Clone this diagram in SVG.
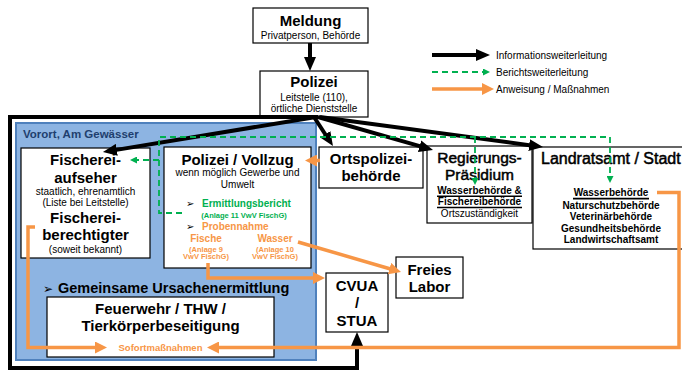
<svg xmlns="http://www.w3.org/2000/svg" width="682" height="372" viewBox="0 0 682 372">
<defs>
<style>
text{font-family:"Liberation Sans",Arial,sans-serif;fill:#000}
.box{fill:#fff;stroke:#000;stroke-width:1.2}
.t15{font-size:15px;font-weight:bold;text-anchor:middle}
.t16r{font-size:16px;stroke:#000;stroke-width:0.5}
.s10{font-size:10px;text-anchor:middle}
.b10{font-size:10px;font-weight:bold;text-anchor:middle}
.og{fill:#F79646;font-weight:bold}
.gr{fill:#00B050;font-weight:bold}
.blk{fill:none;stroke:#000;stroke-width:4;marker-end:url(#ab)}
.org{fill:none;stroke:#F79646;stroke-width:3.5;marker-end:url(#ao)}
.grn{fill:none;stroke:#00B050;stroke-width:1.8;stroke-dasharray:6 4;marker-end:url(#ag)}
.ul{stroke:#000;stroke-width:1.6}
.bul{font-family:"DejaVu Sans",sans-serif;font-size:10px;fill:#000}
</style>
<marker id="ab" markerUnits="userSpaceOnUse" markerWidth="14" markerHeight="12" refX="2" refY="6" orient="auto"><path d="M0,0 L14,6 L0,12 z" fill="#000"/></marker>
<marker id="ao" markerUnits="userSpaceOnUse" markerWidth="12" markerHeight="12" refX="2" refY="6" orient="auto"><path d="M0,0 L12,6 L0,12 z" fill="#F79646"/></marker>
<marker id="ag" markerUnits="userSpaceOnUse" markerWidth="7" markerHeight="7" refX="1" refY="3.5" orient="auto"><path d="M0,0 L7,3.5 L0,7 z" fill="#00B050"/></marker>
</defs>
<rect width="682" height="372" fill="#fff"/>

<g id="vorort">
<rect x="16" y="123" width="300" height="237" fill="#8DB4E2" stroke="#4F81BD" stroke-width="2"/>
<text x="23" y="137.5" font-size="11.5" font-weight="bold" style="fill:#1F3F6E">Vorort, Am Gewässer</text>
<text x="43" y="292.5" class="bul" style="font-size:12px">➢</text>
<text x="58" y="292.5" font-size="14.5" font-weight="bold">Gemeinsame Ursachenermittlung</text>
</g>

<g id="meldung">
<rect class="box" x="253" y="8" width="115" height="35"/>
<text class="t15" x="310.5" y="26">Meldung</text>
<text class="s10" x="310.5" y="38.5">Privatperson, Behörde</text>
</g>

<g id="polizei">
<rect class="box" x="260" y="71" width="108" height="46"/>
<text class="t15" x="314" y="87">Polizei</text>
<text class="s10" x="314" y="100.5">Leitstelle (110),</text>
<text class="s10" x="314" y="111.5">örtliche Dienststelle</text>
</g>

<g id="legende">
<text x="496" y="59" font-size="10">Informationsweiterleitung</text>
<text x="496" y="76" font-size="10">Berichtsweiterleitung</text>
<text x="496" y="93" font-size="10">Anweisung / Maßnahmen</text>
</g>

<g id="fischerei">
<rect class="box" x="21" y="148" width="129" height="110"/>
<text class="t15" x="85.5" y="165">Fischerei-</text>
<text class="t15" x="85.5" y="182.5">aufseher</text>
<text class="s10" x="85.5" y="194.5">staatlich, ehrenamtlich</text>
<text class="s10" x="85.5" y="205.5">(Liste bei Leitstelle)</text>
<text class="t15" x="85.5" y="223">Fischerei-</text>
<text class="t15" x="85.5" y="240">berechtigter</text>
<text class="s10" x="85.5" y="252.5">(soweit bekannt)</text>
</g>

<g id="vollzug">
<rect class="box" x="164" y="147" width="147" height="121"/>
<text class="t15" x="237.5" y="165">Polizei / Vollzug</text>
<text class="s10" x="237.5" y="176">wenn möglich Gewerbe und</text>
<text class="s10" x="237.5" y="187.5">Umwelt</text>
<text class="bul" x="186" y="207">➢</text>
<text class="gr" x="202" y="207" font-size="10">Ermittlungsbericht</text>
<text class="gr" x="244" y="218" font-size="7.5" text-anchor="middle">(Anlage 11 VwV FischG)</text>
<text class="bul" x="186" y="229.5">➢</text>
<text class="og" x="202" y="229.5" font-size="10">Probennahme</text>
<text class="og" x="206" y="242" font-size="10" text-anchor="middle">Fische</text>
<text class="og" x="206" y="251.5" font-size="7.5" text-anchor="middle">(Anlage 9</text>
<text class="og" x="206" y="259" font-size="7.5" text-anchor="middle">VwV FischG)</text>
<text class="og" x="275" y="242" font-size="10" text-anchor="middle">Wasser</text>
<text class="og" x="275" y="251.5" font-size="7.5" text-anchor="middle">(Anlage 10</text>
<text class="og" x="275" y="259" font-size="7.5" text-anchor="middle">VwV FischG)</text>
</g>

<g id="ortspolizei">
<rect class="box" x="319" y="147" width="104" height="41"/>
<text class="t15" x="371" y="163.5">Ortspolizei-</text>
<text class="t15" x="371" y="181">behörde</text>
</g>

<g id="regierung">
<rect class="box" x="427" y="146" width="105" height="77"/>
<text class="t16r" x="479.5" y="163" text-anchor="middle" style="font-size:15.5px">Regierungs-</text>
<text class="t16r" x="479.5" y="180" text-anchor="middle" style="font-size:15.5px">Präsidium</text>
<text class="b10" x="479.5" y="193.5">Wasserbehörde &amp;</text>
<line class="ul" x1="437" y1="196.3" x2="522" y2="196.3"/>
<text class="b10" x="479.5" y="205">Fischereibehörde</text>
<line class="ul" x1="437" y1="207.5" x2="522" y2="207.5"/>
<text class="s10" x="479.5" y="217">Ortszuständigkeit</text>
</g>

<g id="landratsamt">
<rect class="box" x="533" y="147" width="160" height="102"/>
<text class="t16r" x="541" y="163.5">Landratsamt / Stadt</text>
<text class="b10" x="611" y="196">Wasserbehörde</text>
<line class="ul" x1="573" y1="198.6" x2="649" y2="198.6"/>
<text class="b10" x="611" y="208.5">Naturschutzbehörde</text>
<text class="b10" x="611" y="220">Veterinärbehörde</text>
<text class="b10" x="611" y="231.5">Gesundheitsbehörde</text>
<text class="b10" x="611" y="243">Landwirtschaftsamt</text>
</g>

<g id="feuerwehr">
<rect class="box" x="47" y="297" width="227" height="60"/>
<text class="t15" x="160.5" y="314">Feuerwehr / THW /</text>
<text class="t15" x="160.5" y="330.5">Tierkörperbeseitigung</text>
<text class="og" x="160.5" y="351" font-size="9.5" text-anchor="middle">Sofortmaßnahmen</text>
</g>

<g id="cvua">
<rect class="box" x="326" y="273" width="62" height="59"/>
<text class="t15" x="357" y="291">CVUA</text>
<text class="t15" x="357" y="308">/</text>
<text class="t15" x="357" y="326">STUA</text>
</g>

<g id="labor">
<rect class="box" x="396" y="257" width="67" height="41"/>
<text class="t15" x="429.5" y="274.5">Freies</text>
<text class="t15" x="429.5" y="292">Labor</text>
</g>

<g id="connectors">
<path class="blk" d="M310,43 V59"/>
<path class="blk" d="M316,117 L114.8,150.1"/>
<path class="blk" d="M314,117 L326.4,136"/>
<path class="blk" d="M318,117 L421.5,146.7"/>
<path class="blk" d="M320,117 L531.1,145.4"/>
<path class="blk" d="M318,117 H10 V368 H357 V344" stroke-width="3.5" stroke-linejoin="miter"/>
<path class="blk" d="M432,55 H478"/>

<path class="grn" d="M182,213 H159 V137 H610 V177"/>
<path class="grn" d="M159,160 H136"/>
<path class="grn" d="M475,137 V179"/>
<path class="grn" d="M432,72 H484"/>

<path class="org" d="M320,160.5 H315"/>
<path class="org" d="M35,227 H28 V347.5 H97"/>
<path class="org" d="M657,192.5 H679 V347.5 H217"/>
<path class="org" d="M208,263 V278 H315"/>
<path class="org" d="M298,242 L391.4,269.2"/>
<path class="org" d="M432,89 H484"/>
</g>
</svg>
